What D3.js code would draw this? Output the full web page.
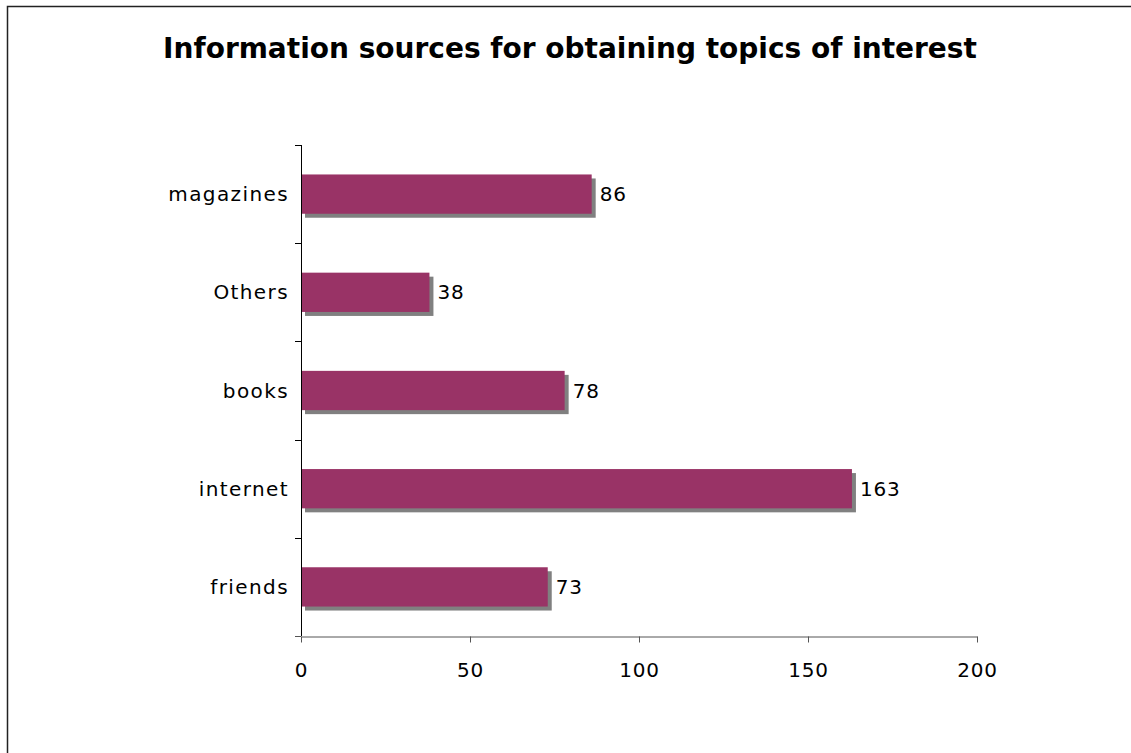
<!DOCTYPE html>
<html>
  <head>
    <meta charset="utf-8" />
    <title>Information sources</title>
    <script src="https://cdn.jsdelivr.net/npm/d3@7"></script>
    <style>
      body { margin: 0; background: #fff; }
      text { font-family: "DejaVu Sans", Verdana, sans-serif; }
    </style>
  </head>
  <body>
    <script>
// data, top to bottom
var categories = ["magazines", "Others", "books", "internet", "friends"];
var values = [86, 38, 78, 163, 73];
var xTicks = [0, 50, 100, 150, 200];

var W = 1131, H = 753;
var plotLeft = 301, plotRight = 977, plotTop = 145, plotBottom = 636;

var svg = d3.select("body").append("svg")
  .attr("width", W)
  .attr("height", H);

// outer frame, only left and top edges show in the picture
svg.append("rect")
  .attr("x", 7.5).attr("y", 6.5)
  .attr("width", W + 20).attr("height", H + 20)
  .attr("fill", "none").attr("stroke", "#222").attr("stroke-width", 1.5);

svg.append("text")
  .attr("x", 570).attr("y", 58)
  .attr("text-anchor", "middle")
  .attr("font-size", 28).attr("font-weight", "bold")
  .text("Information sources for obtaining topics of interest");

var x = d3.scaleLinear().domain([0, 200]).range([plotLeft, plotRight]);
var y = d3.scaleBand().domain(categories).range([plotTop, plotBottom]).paddingInner(0.6).paddingOuter(0.3);
var band = d3.scaleBand().domain(categories).range([plotTop, plotBottom]);

var data = categories.map(function(c, i) { return {cat: c, value: values[i]}; });

// shadows
svg.selectAll("rect.shadow").data(data).enter().append("rect")
  .attr("class", "shadow")
  .attr("x", plotLeft + 4)
  .attr("y", function(d) { return y(d.cat) + 4; })
  .attr("width", function(d) { return x(d.value) - plotLeft; })
  .attr("height", y.bandwidth())
  .attr("fill", "#808080");

svg.selectAll("rect.bar").data(data).enter().append("rect")
  .attr("class", "bar")
  .attr("x", plotLeft)
  .attr("y", function(d) { return y(d.cat); })
  .attr("width", function(d) { return x(d.value) - plotLeft; })
  .attr("height", y.bandwidth())
  .attr("fill", "#993366");

svg.selectAll("text.val").data(data).enter().append("text")
  .attr("class", "val")
  .attr("x", function(d) { return x(d.value) + 8; })
  .attr("y", function(d) { return y(d.cat) + y.bandwidth() / 2; })
  .attr("dy", "0.35em")
  .attr("font-size", 20)
  .attr("letter-spacing", 0.8)
  .text(function(d) { return d.value; });

// y axis
svg.append("line")
  .attr("x1", plotLeft + 0.5).attr("x2", plotLeft + 0.5)
  .attr("y1", plotTop).attr("y2", plotBottom)
  .attr("stroke", "#000");
var yTickPos = categories.map(function(c) { return band(c); }).concat([plotBottom]);
svg.selectAll("line.ytick").data(yTickPos).enter().append("line")
  .attr("class", "ytick")
  .attr("x1", plotLeft - 6).attr("x2", plotLeft)
  .attr("y1", function(d) { return Math.round(d) + 0.5; })
  .attr("y2", function(d) { return Math.round(d) + 0.5; })
  .attr("stroke", "#000");
svg.selectAll("text.cat").data(categories).enter().append("text")
  .attr("class", "cat")
  .attr("x", plotLeft - 12)
  .attr("y", function(c) { return y(c) + y.bandwidth() / 2; })
  .attr("dy", "0.35em")
  .attr("text-anchor", "end")
  .attr("font-size", 20)
  .attr("letter-spacing", 1.4)
  .text(function(c) { return c; });

// x axis
var xAxis = svg.append("g")
  .attr("transform", "translate(0," + (plotBottom + 0.5) + ")")
  .call(d3.axisBottom(x).tickValues(xTicks).tickSize(6).tickPadding(20).tickSizeOuter(0));
xAxis.select(".domain").attr("stroke", "#555");
xAxis.selectAll(".tick line").attr("stroke", "#555");
xAxis.selectAll("text").attr("font-size", 20).attr("letter-spacing", 0.8)
  .attr("font-family", "DejaVu Sans").attr("fill", "#000");
svg.append("line")
  .attr("x1", plotLeft - 6).attr("x2", plotLeft)
  .attr("y1", plotBottom + 0.5).attr("y2", plotBottom + 0.5)
  .attr("stroke", "#555");
    </script>
  </body>
</html>
